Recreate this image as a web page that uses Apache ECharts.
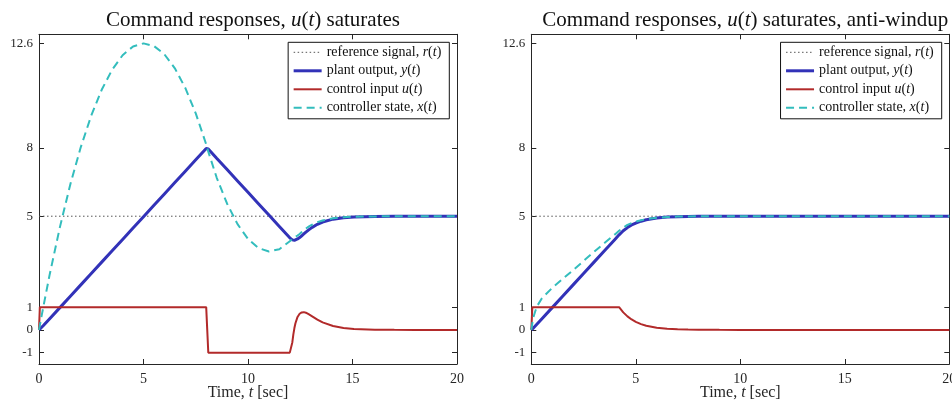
<!DOCTYPE html>
<html>
<head>
<meta charset="utf-8">
<script src="https://cdn.jsdelivr.net/npm/echarts@6/dist/echarts.min.js"></script>
<style>
html, body { margin: 0; padding: 0; background: #fff; }
#chart { width: 952px; height: 402px; }
</style>
</head>
<body>
<div id="chart"></div>
<script>
// left panel: u(t) saturates, no anti-windup
var timeL = [0, 0.04, 0.2, 0.5, 1, 1.5, 2, 2.5, 3, 3.5, 4, 4.5, 5, 5.5, 6, 6.5, 7, 7.5, 8, 8.05,
  8.1, 8.5, 9, 9.5, 10, 10.5, 11, 11.5, 12, 12.07, 12.12, 12.17, 12.22, 12.27, 12.37, 12.47, 12.57, 12.67, 12.77, 12.92,
  13.07, 13.32, 13.57, 14.07, 14.57, 15.07, 16.07, 17, 18, 20];
var plantL = [0, 0.02, 0.18, 0.48, 0.98, 1.48, 1.98, 2.48, 2.98, 3.48, 3.98, 4.48, 4.98, 5.48, 5.98, 6.48, 6.98, 7.48, 7.98, 8.0,
  7.96, 7.55, 7.05, 6.55, 6.05, 5.55, 5.05, 4.55, 4.05, 3.98, 3.96, 3.94, 3.94, 3.95, 4.0, 4.06, 4.14, 4.22, 4.30, 4.41,
  4.51, 4.645, 4.745, 4.87, 4.935, 4.967, 4.992, 4.998, 5.0, 5.0];
var inputL = [0, 1, 1, 1, 1, 1, 1, 1, 1, 1, 1, 1, 1, 1, 1, 1, 1, 1, 1, 0,
  -1, -1, -1, -1, -1, -1, -1, -1, -1, -1, -0.55, -0.2, 0.08, 0.29, 0.57, 0.71, 0.77, 0.78, 0.755, 0.68,
  0.595, 0.45, 0.33, 0.17, 0.087, 0.044, 0.011, 0.003, 0, 0];
var stateL = [0, 0.2, 0.98, 2.385, 4.52, 6.405, 8.04, 9.425, 10.56, 11.445, 12.08, 12.465, 12.6, 12.485, 12.12, 11.505, 10.64, 9.525, 8.16, 8.01,
  7.84, 6.70, 5.55, 4.65, 4.00, 3.60, 3.45, 3.55, 3.90, 3.97, 4.00, 4.03, 4.06, 4.09, 4.15, 4.22, 4.30, 4.38, 4.46, 4.55,
  4.63, 4.74, 4.81, 4.91, 4.95, 4.98, 4.99, 5.0, 5.0, 5.0];

// right panel: with anti-windup
var timeR = [0, 0.05, 0.1, 0.2, 0.3, 0.5, 1, 1.5, 2, 2.5, 3, 3.5, 4, 4.2, 4.4, 4.6, 4.8, 5, 5.25, 5.5,
  6, 6.5, 7, 7.5, 8, 9, 10, 12, 15, 20];
var plantR = [0, 0.03, 0.08, 0.18, 0.28, 0.48, 0.98, 1.48, 1.98, 2.48, 2.98, 3.48, 3.98, 4.18, 4.36, 4.50, 4.615, 4.70, 4.78, 4.845,
  4.92, 4.96, 4.978, 4.988, 4.994, 4.998, 5, 5, 5, 5];
var inputR = [0, 1, 1, 1, 1, 1, 1, 1, 1, 1, 1, 1, 1, 1, 0.771, 0.595, 0.458, 0.354, 0.255, 0.185,
  0.096, 0.05, 0.026, 0.014, 0.007, 0.002, 0, 0, 0, 0];
var stateR = [0, 0.3, 0.55, 0.85, 1.08, 1.38, 1.85, 2.24, 2.63, 3.03, 3.43, 3.82, 4.2, 4.36, 4.5, 4.62, 4.7, 4.76, 4.82, 4.87,
  4.93, 4.965, 4.982, 4.99, 4.995, 5, 5, 5, 5, 5];

var refTime = [0, 20];
var refValue = [5, 5];

var yTicks = [-1, 0, 1, 5, 8, 12.6];
var names = ['reference signal, r(t)', 'plant output, y(t)', 'control input u(t)', 'controller state, x(t)'];
var legendText = {
  'reference signal, r(t)': 'reference signal, {i|r}({i|t})',
  'plant output, y(t)': 'plant output, {i|y}({i|t})',
  'control input u(t)': 'control input {i|u}({i|t})',
  'controller state, x(t)': 'controller state, {i|x}({i|t})'
};
var titles = ['Command responses, {i|u}({i|t}) saturates', 'Command responses, {i|u}({i|t}) saturates, anti-windup'];

var FONT = 'Liberation Serif';
var axisColor = '#262626';
var colors = { ref: '#555555', plant: '#3232b8', input: '#b22a2a', state: '#33bdbd' };
var widths = [1, 3, 2, 2];

function pairs(t, v) {
  return t.map(function (x, i) { return [x, v[i]]; });
}

var gridLeft = [39, 531.3];
var gridW = 418;

var grids = [], xAxes = [], yAxes = [], series = [], title = [], legends = [];

[0, 1].forEach(function (g) {
  grids.push({ left: gridLeft[g], top: 34.3, width: gridW, height: 329.7, outerBoundsMode: 'none' });

  var tickStyle = { inside: true, length: 5, lineStyle: { color: axisColor } };
  var lineStyle = { show: true, onZero: false, lineStyle: { color: axisColor, width: 1 } };
  xAxes.push({
    gridIndex: g, type: 'value', position: 'bottom', min: 0, max: 20, interval: 5,
    axisLine: lineStyle, axisTick: tickStyle, splitLine: { show: false },
    axisLabel: { color: axisColor, fontFamily: FONT, fontSize: 14, margin: 8 },
    name: 'Time, {i|t} [sec]', nameLocation: 'middle', nameGap: 21, nameMoveOverlap: false,
    nameTextStyle: { color: axisColor, fontFamily: FONT, fontSize: 16,
      rich: { i: { fontStyle: 'italic', fontFamily: FONT, fontSize: 16, color: axisColor } } }
  });
  xAxes.push({
    gridIndex: g, type: 'value', position: 'top', min: 0, max: 20, interval: 5,
    axisLine: lineStyle, axisTick: tickStyle, splitLine: { show: false }, axisLabel: { show: false }
  });
  yAxes.push({
    gridIndex: g, type: 'value', position: 'left', min: -1.5, max: 13,
    axisLine: lineStyle, splitLine: { show: false },
    axisTick: { inside: true, length: 5, lineStyle: { color: axisColor }, customValues: yTicks },
    axisLabel: { color: axisColor, fontFamily: FONT, fontSize: 13, margin: 6, customValues: yTicks }
  });
  yAxes.push({
    gridIndex: g, type: 'value', position: 'right', min: -1.5, max: 13,
    axisLine: lineStyle, splitLine: { show: false },
    axisTick: { inside: true, length: 5, lineStyle: { color: axisColor }, customValues: yTicks },
    axisLabel: { show: false }
  });

  title.push({
    text: titles[g], left: gridLeft[g] + gridW / 2, top: 5, textAlign: 'center',
    textStyle: { color: '#111', fontFamily: FONT, fontSize: 21, fontWeight: 'normal',
      rich: { i: { fontStyle: 'italic', fontFamily: FONT, fontSize: 21, color: '#111' } } }
  });

  legends.push({
    data: names.map(function (n, k) { return { name: n, lineStyle: { width: widths[k] } }; }),
    orient: 'vertical',
    right: g === 0 ? 502.7 : 10.3, top: 42.3,
    itemWidth: 28, itemHeight: 12, itemGap: 4.5,
    padding: [3, 8, 4, 4], backgroundColor: '#fff',
    borderColor: '#111', borderWidth: 1, borderRadius: 0,
    itemStyle: { opacity: 0 },
    formatter: function (n) { return legendText[n]; },
    textStyle: { color: '#111', fontFamily: FONT, fontSize: 14,
      rich: { i: { fontStyle: 'italic', fontFamily: FONT, fontSize: 14, color: '#111' } } },
    selectedMode: false
  });

  var xi = g * 2, yi = g * 2;
  var tm = g === 0 ? timeL : timeR;
  series.push({
    name: names[0], type: 'line', xAxisIndex: xi, yAxisIndex: yi, symbol: 'none',
    data: pairs(refTime, refValue),
    lineStyle: { color: colors.ref, width: widths[0], type: [1.5, 2.5] }, itemStyle: { color: colors.ref }
  });
  series.push({
    name: names[1], type: 'line', xAxisIndex: xi, yAxisIndex: yi, symbol: 'none',
    data: pairs(tm, g === 0 ? plantL : plantR),
    lineStyle: { color: colors.plant, width: widths[1] }, itemStyle: { color: colors.plant }
  });
  series.push({
    name: names[2], type: 'line', xAxisIndex: xi, yAxisIndex: yi, symbol: 'none',
    data: pairs(tm, g === 0 ? inputL : inputR),
    lineStyle: { color: colors.input, width: widths[2] }, itemStyle: { color: colors.input }
  });
  series.push({
    name: names[3], type: 'line', xAxisIndex: xi, yAxisIndex: yi, symbol: 'none',
    data: pairs(tm, g === 0 ? stateL : stateR),
    lineStyle: { color: colors.state, width: widths[3], type: [8, 5] }, itemStyle: { color: colors.state }
  });
});

var chart = echarts.init(document.getElementById('chart'));
chart.setOption({
  animation: false,
  backgroundColor: '#fff',
  title: title,
  legend: legends,
  grid: grids,
  xAxis: xAxes,
  yAxis: yAxes,
  series: series
});
</script>
</body>
</html>
